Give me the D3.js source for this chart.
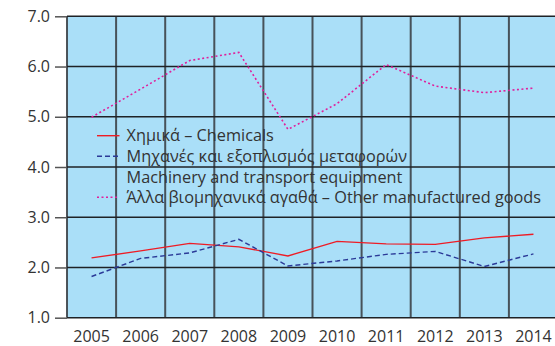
<!DOCTYPE html>
<html>
<head>
<meta charset="utf-8">
<script src="https://cdn.jsdelivr.net/npm/d3@7/dist/d3.min.js"></script>
<style>
  html, body { margin: 0; padding: 0; background: #fff; }
  svg { display: block; }
  text { font-family: "Open Sans", "Noto Sans", sans-serif; fill: #333; }
</style>
</head>
<body>
<svg id="chart" width="555" height="346"></svg>
<script>
// Export shares by product group, 2005–2014
const years = ["2005","2006","2007","2008","2009","2010","2011","2012","2013","2014"];
const chemicals = [2.19, 2.33, 2.48, 2.41, 2.23, 2.52, 2.47, 2.46, 2.59, 2.66];
const machinery = [1.82, 2.18, 2.29, 2.56, 2.03, 2.13, 2.26, 2.32, 2.02, 2.27];
const otherGoods = [4.99, 5.55, 6.12, 6.28, 4.75, 5.26, 6.04, 5.61, 5.48, 5.57];
const yTicks = [1, 2, 3, 4, 5, 6, 7];
const legendLabels = [
  ["Χημικά – Chemicals"],
  ["Μηχανές και εξοπλισμός μεταφορών", "Machinery and transport equipment"],
  ["Άλλα βιομηχανικά αγαθά – Other manufactured goods"]
];

const svg = d3.select("#chart");
const plotLeft = 67, plotTop = 16.3, plotBottom = 317.7, plotRight = 558;

const x = d3.scaleBand().domain(years).range([plotLeft, plotRight]);
const y = d3.scaleLinear().domain([1, 7]).range([plotBottom, plotTop]);

// plot background
svg.append("rect")
  .attr("x", plotLeft).attr("y", plotTop)
  .attr("width", plotRight - plotLeft).attr("height", plotBottom - plotTop)
  .attr("fill", "#aadff8");

// vertical cell dividers
const xEdges = years.map(d => x(d));
svg.append("g").selectAll("line").data(xEdges).join("line")
  .attr("x1", d => d).attr("x2", d => d)
  .attr("y1", plotTop).attr("y2", plotBottom)
  .attr("stroke", "#3c4348").attr("stroke-width", 2).attr("stroke-opacity", 0.9);

// horizontal grid
svg.append("g").selectAll("line").data(yTicks).join("line")
  .attr("x1", plotLeft).attr("x2", plotRight)
  .attr("y1", d => y(d)).attr("y2", d => y(d))
  .attr("stroke", "#1e2226").attr("stroke-width", 1.5);

// y axis ticks and labels
const yAxis = d3.axisLeft(y).tickValues(yTicks).tickFormat(d3.format(".1f")).tickSize(12).tickPadding(5);
const gy = svg.append("g").attr("transform", `translate(${plotLeft},0)`).call(yAxis);
gy.select(".domain").remove();
gy.selectAll(".tick line").attr("stroke", "#555").attr("stroke-width", 1.5);
gy.selectAll(".tick text").attr("font-size", 16).attr("fill", "#333")
  .attr("font-family", "'Open Sans', 'Noto Sans', sans-serif");

// x axis labels
const xAxis = d3.axisBottom(x).tickSize(0).tickPadding(13);
const gx = svg.append("g").attr("transform", `translate(0,${plotBottom})`).call(xAxis);
gx.select(".domain").remove();
gx.selectAll(".tick text").attr("font-size", 16).attr("fill", "#333")
  .attr("font-family", "'Open Sans', 'Noto Sans', sans-serif");

// series
const cx = d => x(d) + x.bandwidth() / 2;
const series = [
  { values: chemicals, color: "#ee1c25", dash: null, width: 1.4 },
  { values: machinery, color: "#2b3a98", dash: "5,3", width: 1.4 },
  { values: otherGoods, color: "#e0209c", dash: "2,2.5", width: 1.6 }
];
const line = d3.line().x((v, i) => cx(years[i])).y(v => y(v));
svg.append("g").selectAll("path").data(series).join("path")
  .attr("d", s => line(s.values))
  .attr("fill", "none")
  .attr("stroke", s => s.color)
  .attr("stroke-width", s => s.width)
  .attr("stroke-dasharray", s => s.dash);

// legend
const legend = svg.append("g");
const rowY = [135.7, 156.3, 197.3];
series.forEach((s, i) => {
  legend.append("line")
    .attr("x1", 97).attr("x2", 119.5)
    .attr("y1", rowY[i]).attr("y2", rowY[i])
    .attr("stroke", s.color).attr("stroke-width", s.width)
    .attr("stroke-dasharray", s.dash);
  legendLabels[i].forEach((t, j) => {
    legend.append("text")
      .attr("x", 126.5).attr("y", rowY[i] + j * 20.5)
      .attr("dy", "0.35em")
      .attr("font-size", 16.3)
      .text(t);
  });
});
</script>
</body>
</html>
